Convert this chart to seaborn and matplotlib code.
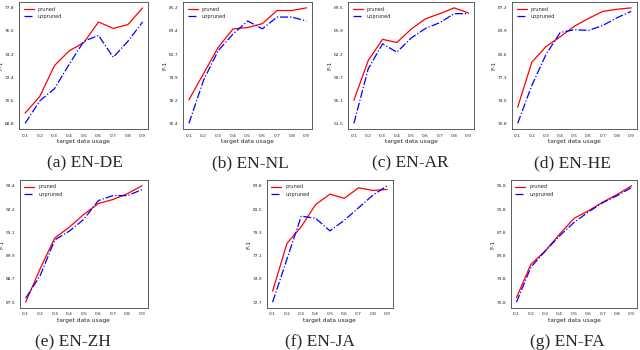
import numpy as np
import matplotlib
matplotlib.use("Agg")
import matplotlib.pyplot as plt
import seaborn as sns

# target data usage (x axis shared by every panel)
usage = [0.1, 0.2, 0.3, 0.4, 0.5, 0.6, 0.7, 0.8, 0.9]

# panel captions
captions = ["(a) EN-DE", "(b) EN-NL", "(c) EN-AR", "(d) EN-HE",
            "(e) EN-ZH", "(f) EN-JA", "(g) EN-FA"]

# F-1 values
pruned_de = [69.6, 70.9, 73.3, 74.45, 75.1, 76.7, 76.2, 76.5, 77.8]
unpruned_de = [68.8, 70.55, 71.5, 73.4, 75.2, 75.65, 73.95, 75.2, 76.7]
pruned_nl = [78.2, 80.2, 82.2, 83.6, 83.7, 84.0, 85.0, 85.0, 85.2]
unpruned_nl = [76.4, 79.7, 81.95, 83.2, 84.2, 83.6, 84.5, 84.5, 84.2]
pruned_ar = [55.1, 61.3, 64.6, 64.1, 66.2, 67.8, 68.6, 69.5, 68.7]
unpruned_ar = [51.5, 60.0, 63.9, 62.6, 64.8, 66.3, 67.2, 68.6, 68.6]
pruned_he = [73.1, 79.5, 81.7, 83.1, 84.6, 85.7, 86.7, 87.0, 87.2]
unpruned_he = [70.8, 76.2, 80.6, 83.7, 84.1, 84.0, 84.7, 85.8, 86.7]
pruned_zh = [87.5, 89.2, 90.75, 91.3, 91.95, 92.5, 92.7, 93.0, 93.4]
unpruned_zh = [87.7, 88.85, 90.65, 91.1, 91.7, 92.65, 92.9, 92.9, 93.2]
pruned_ja = [73.75, 78.3, 79.9, 82.0, 83.0, 82.6, 83.6, 83.35, 83.45]
unpruned_ja = [72.7, 76.8, 80.9, 80.7, 79.5, 80.5, 81.7, 82.9, 83.8]
pruned_fa = [76.6, 82.3, 84.6, 87.5, 90.2, 91.5, 93.0, 94.3, 95.8]
unpruned_fa = [75.8, 81.8, 84.6, 87.2, 89.5, 91.3, 92.9, 94.1, 95.5]

# y tick labels as printed in each panel
yticks_de = ["68.8", "70.6", "72.4", "74.2", "76.0", "77.8"]
yticks_nl = ["76.4", "78.2", "79.9", "81.7", "83.4", "85.2"]
yticks_ar = ["51.5", "55.1", "58.7", "62.3", "65.9", "69.5"]
yticks_he = ["70.8", "74.0", "77.3", "80.6", "83.9", "87.2"]
yticks_zh = ["87.5", "88.7", "89.9", "91.1", "92.2", "93.4"]
yticks_ja = ["72.7", "74.9", "77.1", "79.3", "81.5", "83.8"]
yticks_fa = ["75.8", "79.8", "83.8", "87.8", "91.8", "95.8"]

panels = [
    (pruned_de, unpruned_de, yticks_de),
    (pruned_nl, unpruned_nl, yticks_nl),
    (pruned_ar, unpruned_ar, yticks_ar),
    (pruned_he, unpruned_he, yticks_he),
    (pruned_zh, unpruned_zh, yticks_zh),
    (pruned_ja, unpruned_ja, yticks_ja),
    (pruned_fa, unpruned_fa, yticks_fa),
]

# axes rectangles (figure fraction) and caption centres
boxes = [
    [0.030, 0.631, 0.202, 0.363],
    [0.286, 0.631, 0.202, 0.363],
    [0.544, 0.631, 0.197, 0.363],
    [0.800, 0.631, 0.195, 0.363],
    [0.031, 0.120, 0.200, 0.366],
    [0.417, 0.120, 0.197, 0.366],
    [0.798, 0.120, 0.198, 0.366],
]
cap_pos = [(85, 163), (250, 163), (410, 163), (572, 163),
           (73, 342), (320, 342), (567, 342)]

sns.set_style("white")
plt.rcParams['font.family'] = ['DejaVu Sans']

fig = plt.figure(figsize=(6.4, 3.5), dpi=100)

for (pr, un, ylabs), box, cap, (cx, cy) in zip(panels, boxes, captions, cap_pos):
    ax = fig.add_axes(box)
    sns.lineplot(x=usage, y=pr, color="red", linewidth=0.9, label="pruned", ax=ax)
    sns.lineplot(x=usage, y=un, color="blue", linewidth=0.9, linestyle="-.",
                 label="unpruned", ax=ax)
    lo, hi = min(pr + un), max(pr + un)
    ax.set_yticks(np.linspace(lo, hi, 6))
    ax.set_yticklabels(ylabs)
    ax.set_xticks(usage)
    ax.set_xticklabels([f"{u:.1f}" for u in usage])
    ax.tick_params(labelsize=3.2, length=2, width=0.5, pad=1.2)
    ax.set_xlabel("target data usage", fontsize=4.2, labelpad=1)
    ax.set_ylabel("F-1", fontsize=4.2, labelpad=1)
    for s in ax.spines.values():
        s.set_linewidth(0.6)
        s.set_color("#444444")
    ax.legend(loc="upper left", frameon=False, fontsize=3.6, handlelength=2)
    fig.text(cx / 640, 1 - cy / 350, cap, ha="center", va="center",
             fontsize=12.5, family="Liberation Serif")

fig.savefig("out.png", dpi=100)
